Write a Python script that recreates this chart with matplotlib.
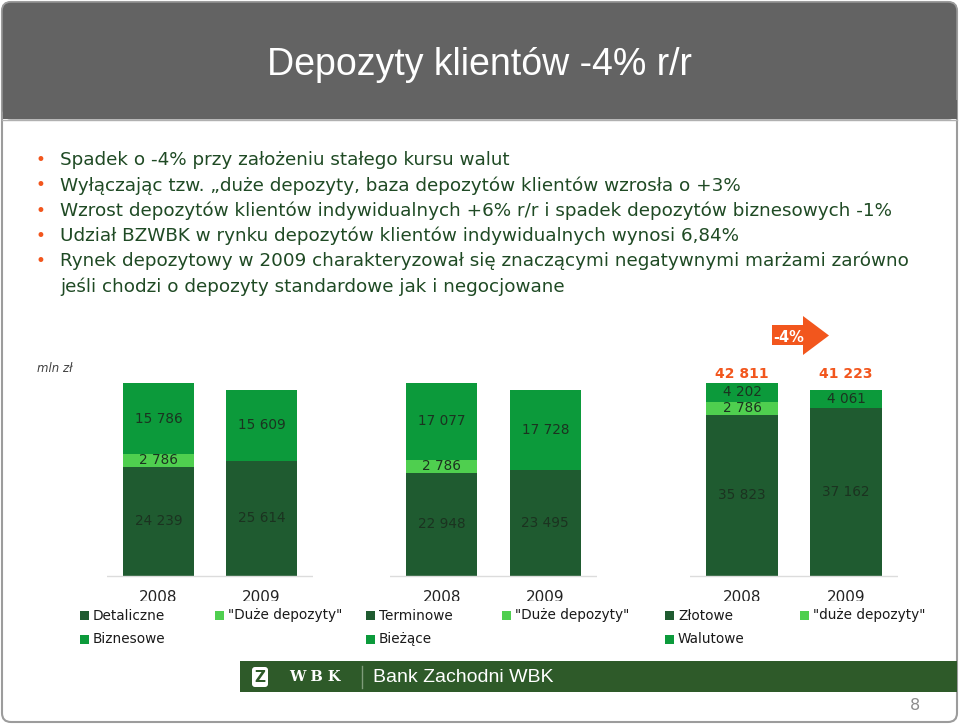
import matplotlib
matplotlib.use('Agg')
import matplotlib.pyplot as plt
from matplotlib.patches import Rectangle, FancyBboxPatch, Polygon

# ---------------- data ----------------
years = ['2008', '2009']
totals = [42811, 41223]

detaliczne = [24239, 25614]
duze_1 = [2786, 0]
biznesowe = [15786, 15609]

terminowe = [22948, 23495]
duze_2 = [2786, 0]
biezace = [17077, 17728]

zlotowe = [35823, 37162]
duze_3 = [2786, 0]
walutowe = [4202, 4061]

labels_1 = ['Detaliczne', '"Duże depozyty"', 'Biznesowe']
labels_2 = ['Terminowe', '"Duże depozyty"', 'Bieżące']
labels_3 = ['Złotowe', '"duże depozyty"', 'Walutowe']

title = 'Depozyty klientów -4% r/r'
bullets = [
    'Spadek o -4% przy założeniu stałego kursu walut',
    'Wyłączając tzw. „duże depozyty, baza depozytów klientów wzrosła o +3%',
    'Wzrost depozytów klientów indywidualnych +6% r/r i spadek depozytów biznesowych -1%',
    'Udział BZWBK w rynku depozytów klientów indywidualnych wynosi 6,84%',
    'Rynek depozytowy w 2009 charakteryzował się znaczącymi negatywnymi marżami zarówno',
]
bullet_cont = 'jeśli chodzi o depozyty standardowe jak i negocjowane'
change_label = '-4%'
unit_label = 'mln zł'
footer_text = 'Bank Zachodni WBK'
page_no = '8'

# ---------------- style ----------------
W, H = 960, 727
C_DARK = '#1f5b30'
C_MED = '#0c9a3b'
C_LIGHT = '#4fcf4f'
C_ORANGE = '#f2561d'
C_TEXT = '#1f4a24'
C_LBL = '#1b3320'

fig = plt.figure(figsize=(W / 100, H / 100), dpi=100)
fig.patch.set_facecolor('white')

sl = fig.add_axes([0, 0, 1, 1])
sl.set_xlim(0, W)
sl.set_ylim(H, 0)
sl.axis('off')

# slide frame
sl.add_patch(FancyBboxPatch((2, 2), W - 5, H - 7, boxstyle='round,pad=0,rounding_size=9',
                            facecolor='white', edgecolor='#9c9c9c', lw=1.5))
sl.add_patch(FancyBboxPatch((2, 2), W - 5, 117, boxstyle='round,pad=0,rounding_size=9',
                            facecolor='#636363', edgecolor='#9c9c9c', lw=1.0))
sl.add_patch(Rectangle((2.5, 100), W - 6, 19, facecolor='#636363', edgecolor='none'))
sl.plot([2, W - 3], [119.5, 119.5], color='#b0b0b0', lw=1)

sl.text(479, 65, title, color='white', fontsize=27, ha='center', va='center',
        family=['Liberation Sans', 'DejaVu Sans'])

# bullets
for i, b in enumerate(bullets):
    y = 160 + 25.3 * i
    sl.text(40, y, '•', color=C_ORANGE, fontsize=12, ha='center', va='center')
    sl.text(60, y, b, color=C_TEXT, fontsize=13.2, ha='left', va='center', family='DejaVu Sans')
sl.text(60, 160 + 25.3 * 5, bullet_cont, color=C_TEXT, fontsize=13.2, ha='left', va='center',
        family='DejaVu Sans')

# -4% arrow
sl.add_patch(Polygon([(772, 325), (803, 325), (803, 316), (829, 335.5), (803, 355), (803, 345), (772, 345)],
                     closed=True, facecolor=C_ORANGE, edgecolor='none'))
sl.text(789, 337.5, change_label, color='white', fontsize=10.5, fontweight='bold', ha='center', va='center')

sl.text(37, 369, unit_label, color='#404040', fontsize=8.5, style='italic', ha='left', va='center')

# ---------------- charts ----------------
k = 42811 / 193.0  # value units per pixel
base_px = 576
top_px = 330
clip_px = 601

charts = [
    (107, 313, [detaliczne, duze_1, biznesowe], labels_1),
    (390, 597, [terminowe, duze_2, biezace], labels_2),
    (690, 898, [zlotowe, duze_3, walutowe], labels_3),
]
colors = [C_DARK, C_LIGHT, C_MED]
leg_cols = [(80, 215), (366, 502), (665, 800)]

for ci, (x0, x1, series, labels) in enumerate(charts):
    ax = fig.add_axes([x0 / W, 1 - clip_px / H, (x1 - x0) / W, (clip_px - top_px) / H])
    ax.set_facecolor('none')
    ax.set_xlim(-0.5, 1.5)
    ax.set_ylim(-(clip_px - base_px) * k, (base_px - top_px) * k)
    ax.axis('off')
    ax.axhline(0, color='#dcdcdc', lw=1)
    xs = list(range(len(years)))
    bottoms = [0] * len(years)
    for s, col in zip(series, colors):
        ax.bar(xs, s, bottom=bottoms, width=0.69, color=col, edgecolor='none')
        for j, v in enumerate(s):
            if v > 0:
                ax.text(xs[j], bottoms[j] + v / 2, f'{v:,}'.replace(',', ' '), color=C_LBL,
                        fontsize=9.8, ha='center', va='center')
        bottoms = [b + v for b, v in zip(bottoms, s)]
    for j, y in enumerate(years):
        ax.text(xs[j], -22 * k, y, color='#222222', fontsize=11, ha='center', va='center', clip_on=True)
    if ci == 2:
        for j, t in enumerate(totals):
            ax.text(xs[j], max(totals) + 9 * k, f'{t:,}'.replace(',', ' '), color=C_ORANGE, fontsize=10,
                    fontweight='bold', ha='center', va='center')
    # legend
    lx1, lx2 = leg_cols[ci]
    entries = [(lx1, 615.5, labels[0], colors[0]), (lx2, 615.5, labels[1], colors[1]),
               (lx1, 639, labels[2], colors[2])]
    for lx, ly, lab, col in entries:
        sl.add_patch(Rectangle((lx, ly - 4.5), 8.5, 9, facecolor=col, edgecolor='none'))
        sl.text(lx + 13, ly, lab, color='#1a1a1a', fontsize=9.8, ha='left', va='center')

# ---------------- footer ----------------
sl.add_patch(Rectangle((240, 661), W - 3 - 240, 31, facecolor='#2e5a29', edgecolor='none'))
sl.add_patch(FancyBboxPatch((252, 667), 16, 20, boxstyle='round,pad=0,rounding_size=3',
                            facecolor='white', edgecolor='none'))
sl.text(260, 677.5, 'Z', color='#2e5a29', fontsize=11, fontweight='bold', ha='center', va='center')
sl.text(315, 677, 'W B K', color='white', fontsize=10.5, fontweight='bold', family='DejaVu Serif',
        ha='center', va='center')
sl.plot([362, 362], [666, 688], color='#7f9c7a', lw=1)
sl.text(373, 677, footer_text, color='white', fontsize=14, family='Liberation Sans', ha='left', va='center')
sl.text(915, 706, page_no, color='#8c8c8c', fontsize=11.5, ha='center', va='center')

fig.savefig('out.png', dpi=100, facecolor='white')
